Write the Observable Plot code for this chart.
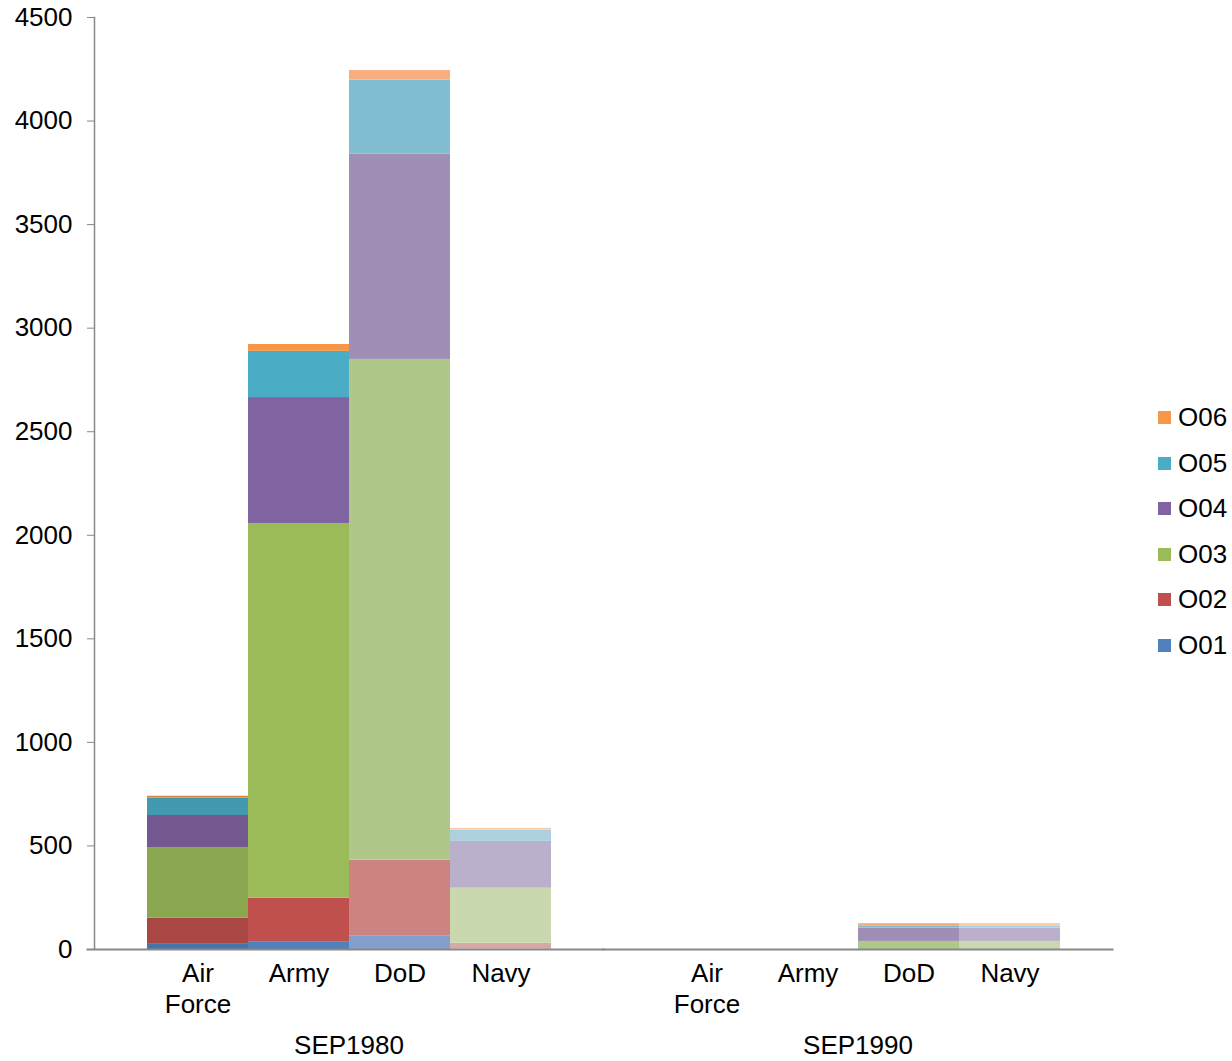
<!DOCTYPE html>
<html>
<head>
<meta charset="utf-8">
<script src="https://cdn.jsdelivr.net/npm/d3@7"></script>
<script src="https://cdn.jsdelivr.net/npm/@observablehq/plot@0.6"></script>
<style>
  html, body { margin: 0; padding: 0; background: #fff; }
  #wrap { position: relative; width: 1232px; height: 1061px; font-family: "Liberation Sans", Arial, sans-serif; }
  #legend { position: absolute; left: 1158px; top: 395px; }
  .li { display: flex; align-items: center; height: 45.5px; font-size: 26px; color: #000; }
  .sw { width: 13px; height: 13px; margin-right: 7px; }
</style>
</head>
<body>
<div id="wrap"><div id="chart"></div><div id="legend"></div></div>
<script>
// ---- data ----
const periods = ["SEP1980", "SEP1990"];
const services = ["Air Force", "Army", "DoD", "Navy"];
const grades = ["O01", "O02", "O03", "O04", "O05", "O06"];
const sep1980AirForce = [25, 126, 341, 155, 84, 9];
const sep1980Army     = [35, 213, 1809, 608, 223, 33];
const sep1980DoD      = [64, 367, 2418, 991, 358, 46];
const sep1980Navy     = [2, 28, 266, 226, 54, 9];
const sep1990AirForce = [0, 0, 0, 0, 0, 0];
const sep1990Army     = [0, 0, 0, 0, 0, 0];
const sep1990DoD      = [0, 0, 39, 64, 8, 14];
const sep1990Navy     = [0, 0, 39, 64, 8, 14];
const yTicks = [0, 500, 1000, 1500, 2000, 2500, 3000, 3500, 4000, 4500];

// ---- styles ----
const shades = {
  "Air Force": ["#4673AA", "#A84744", "#8AA64F", "#73598F", "#4399B0", "#DB853E"],
  "Army":      ["#4F81BD", "#C0504D", "#9BBB59", "#8064A2", "#4BACC6", "#F79646"],
  "DoD":       ["#849FCB", "#CD837F", "#B0C78A", "#A08FB5", "#83BDD1", "#F9AE7F"],
  "Navy":      ["#A9BCDA", "#D8A8A7", "#C9D8AF", "#BBB0CB", "#ACD0DD", "#F9CBB0"]
};

const series = {
  "SEP1980": [sep1980AirForce, sep1980Army, sep1980DoD, sep1980Navy],
  "SEP1990": [sep1990AirForce, sep1990Army, sep1990DoD, sep1990Navy]
};
const rows = [];
for (const p of periods) {
  services.forEach((s, si) => {
    grades.forEach((g, gi) => {
      rows.push({period: p, service: s, grade: g, value: series[p][si][gi], color: shades[s][gi]});
    });
  });
}

const font = "'Liberation Sans', Arial, sans-serif";
const chart = Plot.plot({
  width: 1232,
  height: 1061,
  marginLeft: 93,
  marginRight: 120,
  marginTop: 17,
  marginBottom: 112,
  style: {fontFamily: font, fontSize: "26px", color: "#000", background: "#fff"},
  fx: {domain: periods, padding: 0, label: null},
  x: {domain: services, paddingInner: 0, paddingOuter: 0.5, label: null},
  y: {domain: [0, 4500], label: null},
  color: {type: "identity"},
  marks: [
    Plot.barY(rows, {fx: "period", x: "service", y: "value", fill: "color", inset: 0}),
    Plot.frame({anchor: "left", stroke: "#888", strokeWidth: 1.5, facetAnchor: "left"}),
    Plot.frame({anchor: "bottom", stroke: "#888", strokeWidth: 2, insetLeft: -7, facetAnchor: "left"}),
    Plot.frame({anchor: "bottom", stroke: "#888", strokeWidth: 2, facetAnchor: "right"}),
    Plot.axisY({ticks: yTicks, tickSize: 7, tickPadding: 15, stroke: "#888", fontSize: 26, tickFormat: d => String(d), label: null}),
    Plot.axisX({tickSize: 0, tickPadding: 10, fontSize: 26, lineHeight: 1.2, tickFormat: d => d === "Air Force" ? "Air\nForce" : d, label: null}),
    Plot.axisFx({anchor: "bottom", tickSize: 0, tickPadding: 86, fontSize: 26, label: null})
  ]
});
document.getElementById("chart").appendChild(chart);

// legend
const legend = document.getElementById("legend");
[...grades].reverse().forEach(g => {
  const gi = grades.indexOf(g);
  const row = document.createElement("div");
  row.className = "li";
  row.innerHTML = `<span class="sw" style="background:${shades["Army"][gi]}"></span><span>${g}</span>`;
  legend.appendChild(row);
});
</script>
</body>
</html>
